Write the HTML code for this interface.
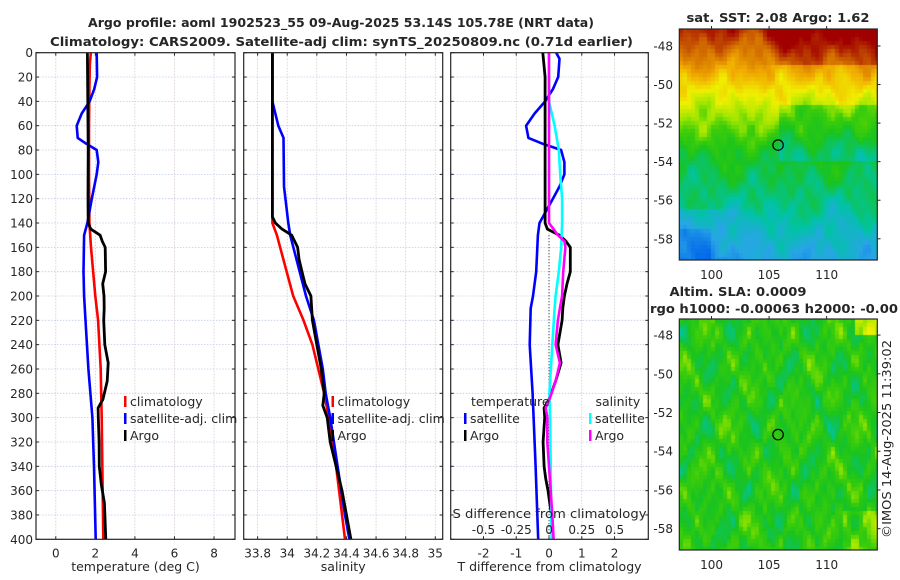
<!DOCTYPE html>
<html><head><meta charset="utf-8"><style>
html,body{margin:0;padding:0;background:#fff;width:900px;height:580px;overflow:hidden}
#wrap{position:relative;width:900px;height:580px}
canvas{position:absolute}
svg{position:absolute;left:0;top:0}
text{font-family:"DejaVu Sans","Liberation Sans",sans-serif;fill:#262626}
</style></head><body>
<div id="wrap">
<canvas id="sst" width="198" height="231" style="left:679px;top:29px"></canvas>
<canvas id="sla" width="198" height="231" style="left:679px;top:319px"></canvas>
<svg id="fig" width="900" height="580" xmlns="http://www.w3.org/2000/svg">
<text x="341" y="27" text-anchor="middle" font-weight="bold" font-size="12" textLength="506" lengthAdjust="spacingAndGlyphs">Argo profile: aoml 1902523_55 09-Aug-2025 53.14S 105.78E (NRT data)</text>
<text x="341.5" y="46" text-anchor="middle" font-weight="bold" font-size="12" textLength="583" lengthAdjust="spacingAndGlyphs">Climatology: CARS2009. Satellite-adj clim: synTS_20250809.nc (0.71d earlier)</text>
<text x="778" y="22" text-anchor="middle" font-weight="bold" font-size="12" textLength="183" lengthAdjust="spacingAndGlyphs">sat. SST: 2.08 Argo: 1.62</text>
<text x="738" y="296" text-anchor="middle" font-weight="bold" font-size="12" textLength="137" lengthAdjust="spacingAndGlyphs">Altim. SLA: 0.0009</text>
<text x="650" y="313" font-weight="bold" font-size="12" textLength="248" lengthAdjust="spacingAndGlyphs">rgo h1000: -0.00063 h2000: -0.00</text>
<text transform="translate(891,439) rotate(-90)" text-anchor="middle" font-size="12" textLength="198" lengthAdjust="spacingAndGlyphs">©IMOS 14-Aug-2025 11:39:02</text>
<g id="g"></g>
</svg>
</div>
<script>
// ---- Panel 1: temperature ----
const climTDepth=[0,10,30,60,100,140,160,200,220,260,300,350,400];
const climT=[1.77,1.72,1.7,1.68,1.68,1.7,1.78,2.0,2.14,2.27,2.32,2.36,2.4];
const satTDepth=[0,20,30,40,50,60,70,75,80,90,100,120,140,150,180,200,220,260,300,340,400];
const satT=[2.07,2.09,1.94,1.71,1.31,1.06,1.11,1.56,2.07,2.15,2.07,1.82,1.6,1.43,1.4,1.43,1.5,1.65,1.85,1.93,2.02];
const argoTDepth=[0,40,80,120,140,145,150,155,160,180,190,200,210,220,240,255,270,285,292,300,320,340,355,370,400];
const argoT=[1.6,1.62,1.64,1.63,1.64,1.77,2.24,2.35,2.5,2.52,2.37,2.44,2.45,2.42,2.48,2.65,2.6,2.38,2.14,2.15,2.19,2.2,2.3,2.46,2.53];
// ---- Panel 2: salinity ----
const climSDepth=[0,140,150,170,200,220,240,260,280,300,340,360,400];
const climS=[33.9,33.9,33.93,33.974,34.04,34.11,34.17,34.21,34.25,34.28,34.33,34.35,34.39];
const satSDepth=[0,40,60,70,110,140,150,200,220,260,280,300,340,380,400];
const satS=[33.9,33.9,33.94,33.975,33.978,34.007,34.02,34.127,34.18,34.24,34.26,34.29,34.34,34.39,34.42];
const argoSDepth=[0,135,140,145,150,160,170,180,190,200,220,240,260,280,290,300,320,340,360,380,400];
const argoS=[33.9,33.9,33.92,33.965,34.03,34.07,34.08,34.1,34.12,34.16,34.17,34.2,34.23,34.25,34.24,34.27,34.29,34.33,34.37,34.4,34.43];
// ---- Panel 3: differences from climatology ----
const satTdDepth=[0,5,20,30,40,50,60,70,75,80,90,100,110,120,140,150,180,200,210,240,280,300,340,400];
const satTd=[0.22,0.32,0.28,0.12,-0.12,-0.44,-0.7,-0.63,-0.18,0.37,0.47,0.47,0.32,0.12,-0.29,-0.34,-0.39,-0.49,-0.56,-0.59,-0.5,-0.47,-0.41,-0.33];
const argoTdDepth=[0,20,140,145,150,155,160,180,190,200,210,220,240,255,270,285,292,300,320,340,350,360,370,380,400];
const argoTd=[-0.19,-0.12,-0.12,-0.05,0.32,0.52,0.65,0.65,0.55,0.47,0.42,0.4,0.27,0.37,0.2,0,-0.15,-0.13,-0.18,-0.15,-0.1,-0.03,0.02,0.08,0.1];
const satSdDepth=[0,40,60,80,100,120,140,160,180,200,210,240,280,300,340,400];
const satSd=[0,0,0.043,0.075,0.085,0.1,0.1,0.093,0.075,0.05,0.043,0.025,0.003,0.008,0.013,0.02];
const argoSdDepth=[0,140,145,150,155,160,180,200,210,220,240,255,270,285,292,300,320,360,380,400];
const argoSd=[0,0,0.035,0.068,0.118,0.125,0.108,0.1,0.083,0.068,0.05,0.083,0.05,0.003,-0.025,-0.013,-0.013,0.013,0.025,0.035];
// tick labels
const depthTicks=[0,20,40,60,80,100,120,140,160,180,200,220,240,260,280,300,320,340,360,380,400];
const tempTicks=[0,2,4,6,8];
const salTicks=[33.8,34,34.2,34.4,34.6,34.8,35];
const tdTicks=[-2,-1,0,1,2];
const sdTicks=[-0.5,-0.25,0,0.25,0.5];
const sstLatTicks=[-48,-50,-52,-54,-56,-58];
const lonTicks=[100,105,110];

const NS='http://www.w3.org/2000/svg';
const G=document.getElementById('g');
function mk(tag,attrs,parent){const e=document.createElementNS(NS,tag);for(const k in attrs)e.setAttribute(k,attrs[k]);(parent||G).appendChild(e);return e;}
const yTop=52.7,yBot=539.3;
const sy=d=>yTop+(d/400)*(yBot-yTop);
function lin(d0,d1,r0,r1){return v=>r0+(v-d0)/(d1-d0)*(r1-r0);}

const panels=[
 {x0:36,x1:235,min:-1.0,max:9.06,ticks:tempTicks,label:'temperature (deg C)',name:'temperature-panel'},
 {x0:243.7,x1:442.7,min:33.706,max:35.05,ticks:salTicks,label:'salinity',name:'salinity-panel'},
 {x0:450.7,x1:648.3,min:-3.0,max:3.03,ticks:tdTicks,label:'T difference from climatology',name:'difference-panel'}
];
panels.forEach((p,pi)=>{
 p.sx=lin(p.min,p.max,p.x0,p.x1);
 const g=mk('g',{});
 
 
 depthTicks.forEach(d=>{const l=mk('line',{x1:p.x0,x2:p.x1,y1:sy(d),y2:sy(d),stroke:'#c3cbe6','stroke-width':0.8,'stroke-dasharray':'1.5,1.5'},g);
   });
 p.ticks.forEach(t=>{const l=mk('line',{x1:p.sx(t),x2:p.sx(t),y1:yTop,y2:yBot,stroke:'#d8c6cf','stroke-width':0.8,'stroke-dasharray':'1.5,1.5'},g);
   });
 depthTicks.forEach(d=>{mk('line',{x1:p.x0,x2:p.x0+3,y1:sy(d),y2:sy(d),stroke:'#262626','stroke-width':1},g);
   mk('line',{x1:p.x1-3,x2:p.x1,y1:sy(d),y2:sy(d),stroke:'#262626','stroke-width':1},g);});
 p.ticks.forEach(t=>{mk('line',{x1:p.sx(t),x2:p.sx(t),y1:yBot-3,y2:yBot,stroke:'#262626','stroke-width':1},g);
   mk('line',{x1:p.sx(t),x2:p.sx(t),y1:yTop,y2:yTop+3,stroke:'#262626','stroke-width':1},g);
   const tx=mk('text',{x:p.sx(t),y:yBot+18,'text-anchor':'middle','font-size':12},g);tx.textContent=(t<0?'-':'')+String(Math.abs(t));
   });
 const xl=mk('text',{x:(p.x0+p.x1)/2,y:571,'text-anchor':'middle','font-size':12.5},g);xl.textContent=p.label;
 
 p.g=g;
});
depthTicks.forEach(d=>{const t=mk('text',{x:33,y:sy(d)+4.5,'text-anchor':'end','font-size':12});t.textContent=d;
 });

function series(p,depths,vals,color,name,w){
 const pts=depths.map((d,i)=>p.sx(vals[i]).toFixed(1)+','+sy(d).toFixed(1)).join(' ');
 const l=mk('polyline',{points:pts,fill:'none',stroke:color,'stroke-width':w||2.6,'stroke-linejoin':'round'},p.g);
 
 
}
const P1=panels[0],P2=panels[1],P3=panels[2];
series(P1,climTDepth,climT,'#ff0000','climatology-temperature-line');
series(P1,satTDepth,satT,'#0000ff','satellite-temperature-line');
series(P1,argoTDepth,argoT,'#000000','argo-temperature-line',2.8);
series(P2,climSDepth,climS,'#ff0000','climatology-salinity-line');
series(P2,satSDepth,satS,'#0000ff','satellite-salinity-line');
series(P2,argoSDepth,argoS,'#000000','argo-salinity-line',2.8);
const zl=mk('line',{x1:P3.sx(0),x2:P3.sx(0),y1:sy(150),y2:yBot,stroke:'#333','stroke-width':1,'stroke-dasharray':'1,2'},P3.g);

series(P3,satTdDepth,satTd,'#0000ff','satellite-temperature-difference-line');
series(P3,argoTdDepth,argoTd,'#000000','argo-temperature-difference-line',2.8);
const sdScale=4;
series(P3,satSdDepth,satSd.map(v=>v*sdScale),'#00ffff','satellite-salinity-difference-line');
series(P3,argoSdDepth,argoSd.map(v=>v*sdScale),'#ff00ff','argo-salinity-difference-line');
const st=mk('text',{x:(P3.x0+P3.x1)/2,y:518,'text-anchor':'middle','font-size':12.5,textLength:194,lengthAdjust:'spacingAndGlyphs'},P3.g);st.textContent='S difference from climatology';

sdTicks.forEach(s=>{const t=mk('text',{x:P3.sx(s*sdScale),y:534,'text-anchor':'middle','font-size':12},P3.g);t.textContent=(s<0?'-':'')+String(Math.abs(s));
 });
panels.forEach(p=>{const r=mk('rect',{x:p.x0,y:yTop,width:p.x1-p.x0,height:yBot-yTop,fill:'none',stroke:'#262626','stroke-width':1.2},p.g);
 });
function legend(parent,x,y,color,label,name){
 const g=mk('g',{},parent);
 
 mk('rect',{x:x,y:y-10,width:2.5,height:11,fill:color},g);
 const t=mk('text',{x:x+6,y:y,'font-size':12.5},g);t.textContent=label;
}
[[P1,124],[P2,331.5]].forEach(([p,x])=>{
 legend(p.g,x,406,'#ff0000','climatology','legend-climatology');
 legend(p.g,x,423,'#0000ff','satellite-adj. clim','legend-satellite-adj-clim');
 legend(p.g,x,440,'#000000','Argo','legend-argo');
});
const lt=mk('text',{x:471,y:406,'font-size':12.5},P3.g);lt.textContent='temperature';

const ls=mk('text',{x:595.5,y:406,'font-size':12.5},P3.g);ls.textContent='salinity';

legend(P3.g,464,423,'#0000ff','satellite','legend-temperature-satellite');
legend(P3.g,464,440,'#000000','Argo','legend-temperature-argo');
legend(P3.g,589,423,'#00ffff','satellite','legend-salinity-satellite');
legend(P3.g,589,440,'#ff00ff','Argo','legend-salinity-argo');

// ---- maps ----
const stops=[[0,[0,40,200]],[0.15,[0,100,235]],[0.3,[40,165,230]],[0.4,[0,195,165]],[0.5,[25,195,30]],[0.56,[60,205,10]],[0.62,[160,230,0]],[0.7,[240,240,0]],[0.8,[240,170,0]],[0.9,[205,100,0]],[1,[160,0,0]]];
function cmap(v){v=Math.max(0,Math.min(1,v));for(let i=1;i<stops.length;i++){if(v<=stops[i][0]){const a=stops[i-1],b=stops[i],f=(v-a[0])/(b[0]-a[0]);return a[1].map((c,k)=>Math.round(c+(b[1][k]-c)*f));}}return stops[stops.length-1][1];}
const lonL=97.2,lonR=114.4,latT=-47.12,latB=-59.1;
const sstLatStops=[-47.1,-48.5,-49.5,-50.5,-51.5,-52.5,-53.5,-55,-56.5,-58,-59.2];
const sstBase=[0.97,0.86,0.78,0.7,0.63,0.57,0.5,0.46,0.41,0.35,0.3];
function interp(xs,ys,x){for(let i=1;i<xs.length;i++){if(x>=xs[i]){const f=(x-xs[i-1])/(xs[i]-xs[i-1]);return ys[i-1]+(ys[i]-ys[i-1])*f;}}return ys[ys.length-1];}
function blob(lon,lat){
 return 0.5*Math.sin(lon*1.31+0.7)*Math.sin(lat*1.73+1.9)
  +0.4*Math.sin(lon*2.27+2.1)*Math.cos(lat*2.41+0.3)
  +0.35*Math.cos(lon*0.83+lat*0.37+1.2)*Math.sin(lat*1.07-0.5)
  +0.3*Math.sin(lon*3.71+4.0)*Math.sin(lat*3.13+2.6)
  +0.2*Math.cos(lon*5.3+1.1)*Math.cos(lat*4.7+0.8);
}
function drawMap(id,fn){
 const c=document.getElementById(id),ctx=c.getContext('2d');
 const cs=4;
 for(let y=0;y<c.height;y+=cs)for(let x=0;x<c.width;x+=cs){
  const lon=lonL+(x+2)/c.width*(lonR-lonL),lat=latT+(y+2)/c.height*(latB-latT);
  const col=cmap(fn(lon,lat));ctx.fillStyle='rgb('+col.join(',')+')';ctx.fillRect(x,y,cs,cs);
 }
}
drawMap('sst',(lon,lat)=>{
 let v=interp(sstLatStops,sstBase,lat);
 if(lat>-49&&lon>104)v+=0.08*Math.min(1,(lon-104)/3);
 if(lon>106&&lat<-51&&lat>-54)v-=0.06;
 if(lat<-56.5&&lon<104)v-=0.06*Math.min(1,(104-lon)/4);
 if(lat<-57.5&&lon<100)v-=0.05;
 v+=0.06*blob(lon,lat);
 return v;
});
drawMap('sla',(lon,lat)=>{
 let v=0.52+0.085*blob(lon*1.3+3,lat*1.1+7);
 if(lon>112.5&&lat>-48)v+=0.15;
 if(lon>111.5&&lat<-57)v+=0.06;
 return v;
});
function mapFrame(top,bot,latA,latB2,name){
 const g=mk('g',{});
 const sxm=lin(lonL,lonR,679.3,877.3),sym=lin(latA,latB2,top,bot);
 mk('rect',{x:679.3,y:top,width:198,height:bot-top,fill:'none',stroke:'#262626','stroke-width':1.2},g);
 sstLatTicks.forEach(l=>{const t=mk('text',{x:673,y:sym(l)+4.5,'text-anchor':'end','font-size':12},g);t.textContent=l;
  
  mk('line',{x1:877.3,x2:880.5,y1:sym(l),y2:sym(l),stroke:'#262626'},g);});
 lonTicks.forEach(l=>{const t=mk('text',{x:sxm(l),y:bot+19,'text-anchor':'middle','font-size':12},g);t.textContent=l;
  
  mk('line',{x1:sxm(l),x2:sxm(l),y1:top-3,y2:top,stroke:'#262626'},g);});
 const c=mk('circle',{cx:sxm(105.78),cy:sym(-53.14),r:5.2,fill:'none',stroke:'#000','stroke-width':1.2},g);
 
}
mapFrame(29,260,-47.12,-59.1,'sst-map-axes');
mapFrame(319,550,-47.17,-59.1,'sla-map-axes');
</script>
</body></html>
